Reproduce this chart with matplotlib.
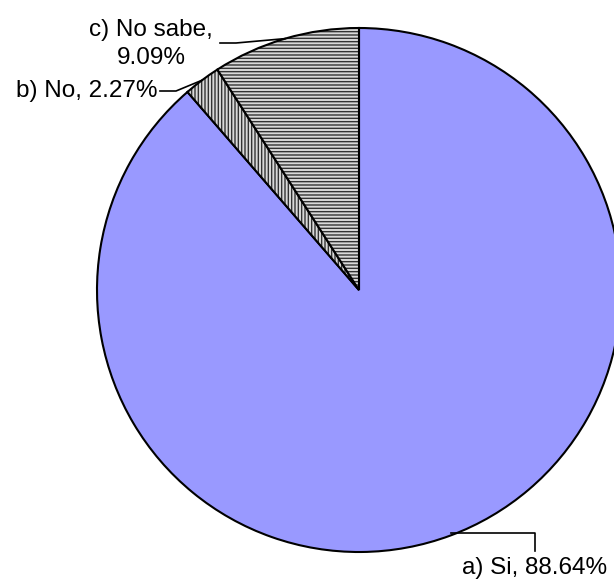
import matplotlib.pyplot as plt
import numpy as np

plt.rcParams['font.family'] = ['Liberation Sans', 'DejaVu Sans']
plt.rcParams['hatch.linewidth'] = 1.0

labels = ['a) Si', 'b) No', 'c) No sabe']
values = [88.64, 2.27, 9.09]
colors = ['#9999ff', '#d9d9d9', '#d9d9d9']
hatches = [None, '|||||', '-----']

W, H = 614, 582
fig = plt.figure(figsize=(W / 100, H / 100), dpi=100)
ax = fig.add_axes([0, 0, 1, 1])

cx, cy, r = 359, 292, 262
wedges, _ = ax.pie(values, colors=colors, startangle=90, counterclock=False,
                   center=(cx, cy), radius=r, frame=True,
                   wedgeprops=dict(edgecolor='black', linewidth=1.5))
for w, h in zip(wedges, hatches):
    if h:
        w.set_hatch(h)
        w._hatch_color = (0.2, 0.2, 0.2, 1.0)
ax.set_xlim(0, W)
ax.set_ylim(0, H)
ax.set_aspect('equal')
ax.axis('off')


def edge_point(w):
    mid = np.deg2rad((w.theta1 + w.theta2) / 2)
    return cx + r * np.cos(mid), cy + r * np.sin(mid)


def y(py):
    return H - py


fs = 17.5

# a) Si
ex, ey = edge_point(wedges[0])
ax.plot([ex, 535, 535], [y(533), y(533), y(551)], color='black', lw=1.2)
ax.text(535, y(568), f'{labels[0]}, {values[0]:.2f}%', ha='center', va='center', fontsize=fs)

# b) No
ex, ey = edge_point(wedges[1])
ax.plot([160, 176, ex], [y(91), y(91), ey], color='black', lw=1.2)
ax.text(158, y(91), f'{labels[1]}, {values[1]:.2f}%', ha='right', va='center', fontsize=fs)

# c) No sabe
ex, ey = edge_point(wedges[2])
ax.plot([220, 236, ex], [y(43), y(43), ey], color='black', lw=1.2)
ax.text(151, y(44), f'{labels[2]},\n{values[2]:.2f}%', ha='center', va='center',
        fontsize=fs, linespacing=1.35)

fig.savefig('out.png', dpi=100)
